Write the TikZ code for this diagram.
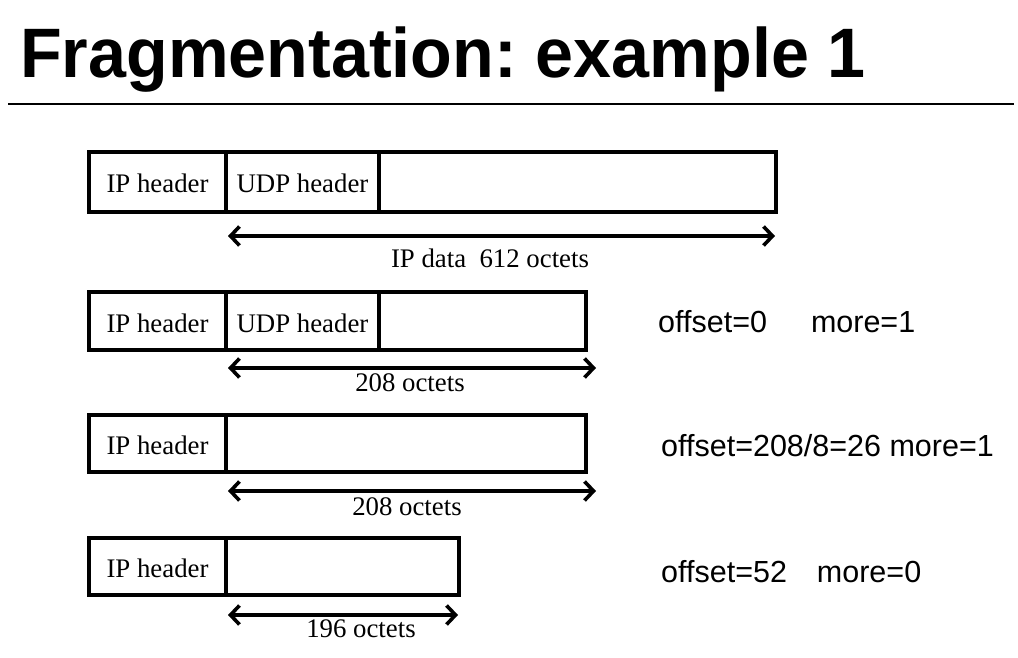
\documentclass[tikz,border=0pt]{standalone}
\usepackage{fontspec}
\setmainfont{Liberation Serif}
\setsansfont{Liberation Sans}
\usetikzlibrary{arrows.meta}
\frenchspacing
\begin{document}
\begin{tikzpicture}[x=1pt,y=-1pt,
  field/.style={draw, line width=3.6pt, inner sep=0pt, outer sep=0pt, anchor=north west,
    font=\fontsize{26.8}{30}\selectfont, text height=22pt, text depth=0pt},
  span/.style={line width=3.6pt, {Straight Barb[length=9pt,width=19pt,line width=3.6pt]}-{Straight Barb[length=9pt,width=19pt,line width=3.6pt]}},
  spanlabel/.style={font=\fontsize{26.8}{30}\selectfont, inner sep=0pt},
  flags/.style={anchor=base west, inner sep=0pt, font=\sffamily\fontsize{30.5}{34}\selectfont}]
\useasboundingbox (0,0) rectangle (1018,658);

% title and rule
\node[anchor=base west, inner sep=0pt, font=\sffamily\bfseries\fontsize{70}{76}\selectfont, xscale=0.975] (title) at (20,78) {Fragmentation: example 1};
\coordinate (ruleL) at (8,104);
\coordinate (ruleR) at (1014,104);
\draw[line width=1.4pt] (ruleL) -- (ruleR);

% original datagram
\node[field, minimum width=137pt, minimum height=60pt] (ip0) at (89,152) {IP header};
\node[field, minimum width=550pt, minimum height=60pt] (data0) at (226,152) {};
\node[field, minimum width=153pt, minimum height=60pt] (udp0) at (226,152) {UDP header};
\coordinate (s0l) at (228,236);
\coordinate (s0r) at (775,236);
\draw[span] (s0l) -- (s0r);
\node[spanlabel] (l0) at (490,258) {IP data\ \ 612 octets};

% fragment 1
\node[field, minimum width=137pt, minimum height=58pt] (ip1) at (89,292) {IP header};
\node[field, minimum width=360pt, minimum height=58pt] (data1) at (226,292) {};
\node[field, minimum width=153pt, minimum height=58pt] (udp1) at (226,292) {UDP header};
\coordinate (s1l) at (228,368);
\coordinate (s1r) at (596,368);
\draw[span] (s1l) -- (s1r);
\node[spanlabel] (l1) at (410,383) {208 octets};
\node[flags] (f1) at (658,332) {offset=0\hspace{44pt}more=1};

% fragment 2
\node[field, minimum width=137pt, minimum height=57pt] (ip2) at (89,415) {IP header};
\node[field, minimum width=360pt, minimum height=57pt] (data2) at (226,415) {};
\coordinate (s2l) at (228,491);
\coordinate (s2r) at (596,491);
\draw[span] (s2l) -- (s2r);
\node[spanlabel] (l2) at (407,507) {208 octets};
\node[flags] (f2) at (661,456) {offset=208/8=26 more=1};

% fragment 3
\node[field, minimum width=137pt, minimum height=57pt] (ip3) at (89,538) {IP header};
\node[field, minimum width=233pt, minimum height=57pt] (data3) at (226,538) {};
\coordinate (s3l) at (228,615);
\coordinate (s3r) at (458,615);
\draw[span] (s3l) -- (s3r);
\node[spanlabel] (l3) at (361,629) {196 octets};
\node[flags] (f3) at (661,582) {offset=52\hspace{30pt}more=0};
\end{tikzpicture}
\end{document}
